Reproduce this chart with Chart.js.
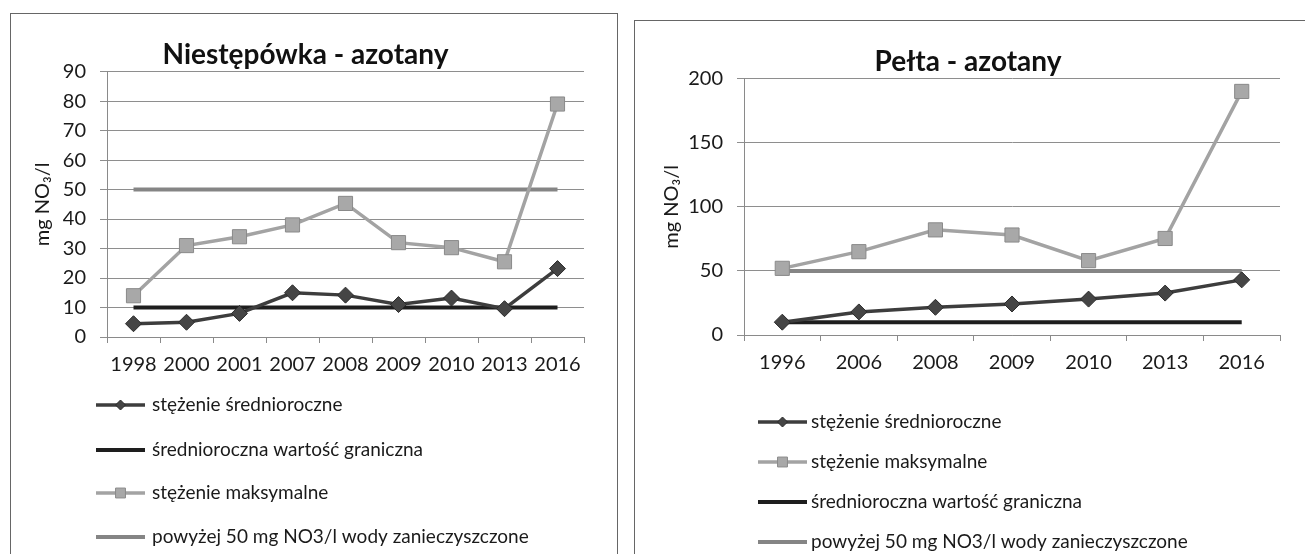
<!DOCTYPE html>
<html><head><meta charset="utf-8">
<script src="https://cdn.jsdelivr.net/npm/chart.js@4/dist/chart.umd.min.js"></script>
<style>
body{margin:0;background:#fff;width:1305px;height:554px;overflow:hidden;position:relative;font-family:Lato}
.box{position:absolute;border:1.5px solid #666;box-sizing:border-box}
#b1{left:10px;top:13px;width:608px;height:580px}
#b2{left:634px;top:20px;width:700px;height:580px}
canvas{position:absolute}
#c1{left:11px;top:14px}
#c2{left:635px;top:20px}
</style></head><body>
<div class="box" id="b1"></div><div class="box" id="b2"></div>
<canvas id="c1" width="605" height="540"></canvas>
<canvas id="c2" width="670" height="534"></canvas>
<script>
// ---- Chart 1: Niestępówka ----
const titleA = 'Niestępówka - azotany';
const yearsA = ['1998','2000','2001','2007','2008','2009','2010','2013','2016'];
const meanA = [4.5, 5, 8, 15, 14.2, 11, 13.2, 9.6, 23.2];
const maxA = [14, 31, 34, 38, 45.3, 32, 30.3, 25.5, 79];
const limitMeanA = [10, 10, 10, 10, 10, 10, 10, 10, 10];
const limitPollA = [50, 50, 50, 50, 50, 50, 50, 50, 50];
const yMaxA = 90, yStepA = 10;

// ---- Chart 2: Pełta ----
const titleB = 'Pełta - azotany';
const yearsB = ['1996','2006','2008','2009','2010','2013','2016'];
const meanB = [10, 18, 21.6, 24.2, 28, 32.7, 43];
const maxB = [52, 65, 82, 78, 58, 75.3, 190];
const limitMeanB = [10, 10, 10, 10, 10, 10, 10];
const limitPollB = [50, 50, 50, 50, 50, 50, 50];
const yMaxB = 200, yStepB = 50;

const labelMean = 'stężenie średnioroczne';
const labelLimit = 'średnioroczna wartość graniczna';
const labelMax = 'stężenie maksymalne';
const labelPoll = 'powyżej 50 mg NO3/l wody zanieczyszczone';
const yTitle = 'mg NO₃/l';

const FONT = 'Lato';
const TXT = '#1a1a1a';

function dsMean(d){return {label:labelMean,data:d,borderColor:'#3d3d3d',borderWidth:3.5,pointStyle:'rectRot',pointRadius:8,pointBackgroundColor:'#454545',pointBorderColor:'#2a2a2a',pointBorderWidth:1,order:1};}
function dsLimit(d){return {label:labelLimit,data:d,borderColor:'#1e1e1e',borderWidth:4,pointRadius:0,order:3};}
function dsMax(d){return {label:labelMax,data:d,borderColor:'#a3a3a3',borderWidth:3.5,pointStyle:'rect',pointRadius:10,pointBackgroundColor:'#a8a8a8',pointBorderColor:'#8a8a8a',pointBorderWidth:1,order:0};}
function dsPoll(d){return {label:labelPoll,data:d,borderColor:'#858585',borderWidth:4,pointRadius:0,order:2};}

const legendPlugin = {
  id: 'sideLegend',
  afterDraw(chart, args, o) {
    const ctx = chart.ctx, base = chart.chartArea.bottom;
    ctx.save();
    chart.data.datasets.forEach((ds, i) => {
      const y = base + o.rows[i];
      ctx.strokeStyle = ds.borderColor; ctx.lineWidth = ds.borderWidth;
      ctx.beginPath(); ctx.moveTo(o.x1, y); ctx.lineTo(o.x2, y); ctx.stroke();
      if (ds.pointRadius > 0) {
        ctx.fillStyle = ds.pointBackgroundColor; ctx.strokeStyle = ds.pointBorderColor; ctx.lineWidth = 1;
        Chart.helpers.drawPoint(ctx, {pointStyle: ds.pointStyle, radius: ds.pointStyle === 'rect' ? 7 : 5, rotation: 0, borderWidth: 1}, (o.x1 + o.x2) / 2, y);
      }
      ctx.fillStyle = TXT; ctx.font = '19px ' + FONT; ctx.textBaseline = 'middle'; ctx.textAlign = 'left';
      ctx.fillText(ds.label, o.tx, y);
    });
    ctx.restore();
  }
};

function makeChart(id, title, labels, datasets, yMax, yStep, g) {
  return new Chart(document.getElementById(id), {
    type: 'line',
    data: {labels, datasets},
    plugins: [legendPlugin],
    options: {
      responsive: false, animation: false, devicePixelRatio: 1,
      layout: {padding: {left: g.padL, right: g.padR, top: 0, bottom: g.padB}},
      plugins: {
        legend: {display: false}, tooltip: {enabled: false},
        title: {display: true, text: title, color: '#111', font: {family: FONT, size: 28, weight: 'bold'}, padding: {top: g.titleTop, bottom: 0}},
        sideLegend: {rows: g.rows, x1: g.x1, x2: g.x2, tx: g.tx}
      },
      scales: {
        x: {
          offset: true,
          grid: {offset: true, drawOnChartArea: false, tickLength: 6, color: '#8a8a8a'},
          border: {display: true, color: '#8a8a8a'},
          ticks: {color: TXT, font: {family: FONT, size: 20}, padding: 10, maxRotation: 0, autoSkip: false},
          afterFit: s => { s.height = 40; }
        },
        y: {
          min: 0, max: yMax,
          grid: {color: '#8e8e8e', tickLength: 7},
          border: {display: true, color: '#8a8a8a'},
          ticks: {stepSize: yStep, color: TXT, font: {family: FONT, size: 20}, padding: 14},
          title: {display: true, text: yTitle, color: TXT, font: {family: FONT, size: 20}, padding: {top: 4, bottom: 4}},
          afterFit: s => { s.width = g.yW; }
        }
      }
    }
  });
}

makeChart('c1', titleA, yearsA,
  [dsMean(meanA), dsLimit(limitMeanA), dsMax(maxA), dsPoll(limitPollA)],
  yMaxA, yStepA,
  {padL: 16, padR: 32, padB: 177, yW: 80, titleTop: 24, rows: [68, 113, 156, 200], x1: 85, x2: 134, tx: 141});

makeChart('c2', titleB, yearsB,
  [dsMean(meanB), dsMax(maxB), dsLimit(limitMeanB), dsPoll(limitPollB)],
  yMaxB, yStepB,
  {padL: 21, padR: 25, padB: 179, yW: 88, titleTop: 25, rows: [87, 127, 167, 207], x1: 123, x2: 172, tx: 176});
</script>
</body></html>
